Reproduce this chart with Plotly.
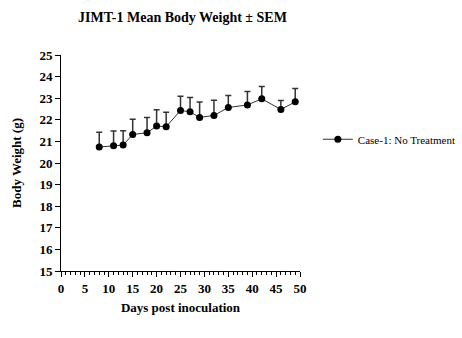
import plotly.graph_objects as go

days = [8, 11, 13, 15, 18, 20, 22, 25, 27, 29, 32, 35, 39, 42, 46, 49]
mean_weight = [20.74, 20.80, 20.83, 21.32, 21.40, 21.71, 21.68, 22.43, 22.37, 22.11,
               22.20, 22.57, 22.69, 22.97, 22.48, 22.83]
sem = [0.68, 0.68, 0.66, 0.71, 0.71, 0.75, 0.67, 0.66, 0.66, 0.71,
       0.71, 0.55, 0.62, 0.57, 0.41, 0.62]
series_name = "Case-1: No Treatment"
x_ticks = [0, 5, 10, 15, 20, 25, 30, 35, 40, 45, 50]
y_ticks = list(range(15, 26))

font = "Liberation Serif"

fig = go.Figure()
fig.add_trace(go.Scatter(
    x=days, y=mean_weight, mode="lines+markers", name=series_name,
    line=dict(color="#333333", width=1),
    marker=dict(color="black", size=7, symbol="circle"),
    error_y=dict(type="data", array=sem, arrayminus=[0] * len(sem), symmetric=False,
                 color="#333333", thickness=1.5, width=3),
))

fig.update_layout(
    width=462, height=338,
    margin=dict(l=61, r=162, t=55, b=67, autoexpand=False),
    paper_bgcolor="white", plot_bgcolor="white",
    title=dict(text="<b>JIMT-1 Mean Body Weight ± SEM</b>", x=0.395, xanchor="center",
               y=0.95, yanchor="middle",
               font=dict(family=font, size=14, color="black")),
    showlegend=True,
    legend=dict(xref="container", yref="container", x=0.688, y=0.588,
                xanchor="left", yanchor="middle",
                font=dict(family=font, size=11, color="black"),
                bgcolor="rgba(0,0,0,0)", itemwidth=30),
    xaxis=dict(range=[0, 50], tickvals=x_ticks, ticks="outside", ticklen=5, tickwidth=1,
               tickcolor="black", showline=True, linecolor="black", linewidth=1,
               showgrid=False, zeroline=False,
               minor=dict(dtick=1, ticks="outside", ticklen=3, tickcolor="black", showgrid=False),
               tickfont=dict(family=font, size=13, color="black", weight="bold"),
               title=dict(text="<b>Days post inoculation</b>", standoff=8,
                          font=dict(family=font, size=13, color="black"))),
    yaxis=dict(range=[15, 25], tickvals=y_ticks, ticks="outside", ticklen=5, tickwidth=1,
               tickcolor="black", showline=True, linecolor="black", linewidth=1,
               showgrid=False, zeroline=False,
               tickfont=dict(family=font, size=13, color="black", weight="bold"),
               title=dict(text="<b>Body Weight (g)</b>", standoff=14,
                          font=dict(family=font, size=13, color="black"))),
)

fig.write_html("out.html")
